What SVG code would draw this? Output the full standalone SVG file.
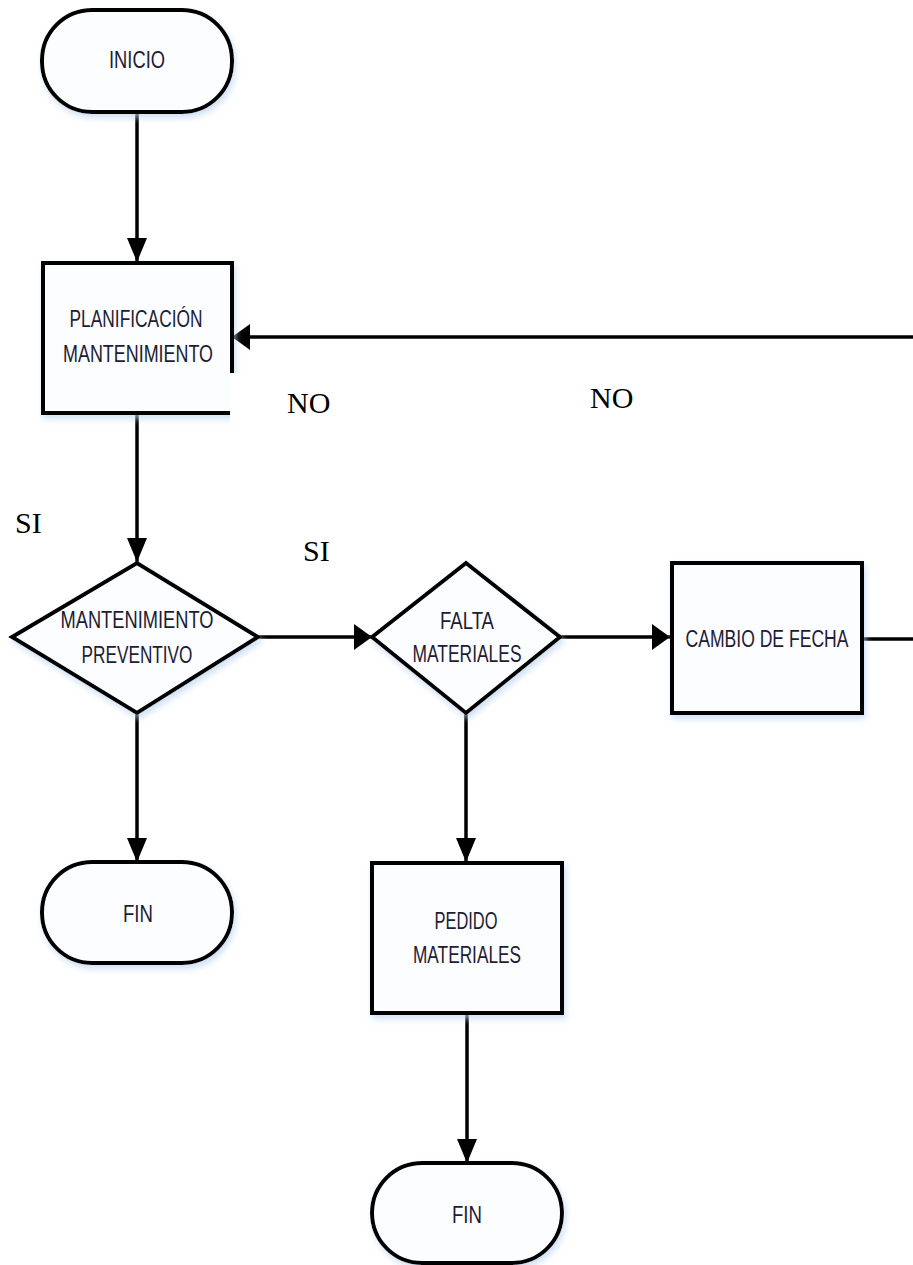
<svg xmlns="http://www.w3.org/2000/svg" width="913" height="1265" viewBox="0 0 913 1265">
  <style>
    .shape { fill: #fbfdff; stroke: #000; stroke-width: 4; filter: url(#soft); }
    .lbl { font-family: "Liberation Sans", Arial, sans-serif; font-size: 23px; fill: #221b33; text-anchor: middle; }
    .note { font-family: "Liberation Serif", "Times New Roman", serif; font-size: 30px; fill: #000; }
    .wire { fill: none; stroke: #000; stroke-width: 3.5; }
    .wireV { marker-end: url(#arrowV); }
    .wireH { marker-end: url(#arrowH); }
  </style>
  <defs>
    <filter id="soft" x="-20%" y="-20%" width="140%" height="140%">
      <feDropShadow dx="2" dy="4" stdDeviation="3" flood-color="#bcd3ee" flood-opacity="0.7"/>
    </filter>
    <!-- arrowhead for vertical runs -->
    <marker id="arrowV" viewBox="0 0 24 20" markerWidth="24" markerHeight="20" refX="24" refY="10" orient="auto" markerUnits="userSpaceOnUse">
      <path d="M0,0 L24,10 L0,20 z" fill="#000"/>
    </marker>
    <!-- arrowhead for horizontal runs -->
    <marker id="arrowH" viewBox="0 0 18 26" markerWidth="18" markerHeight="26" refX="18" refY="13" orient="auto" markerUnits="userSpaceOnUse">
      <path d="M0,0 L18,13 L0,26 z" fill="#000"/>
    </marker>
  </defs>

  <rect width="913" height="1265" fill="#fff"/>

  <g id="connectors">
    <path class="wire wireV" d="M137,112 V262"/>
    <path class="wire wireV" d="M137,413 V562"/>
    <path class="wire wireH" d="M258,637 H372"/>
    <path class="wire wireH" d="M560,637 H670"/>
    <path class="wire wireV" d="M137,713 V862"/>
    <path class="wire wireV" d="M466,713 V862"/>
    <path class="wire wireV" d="M467,1013 V1163"/>
    <path class="wire wireH" d="M862,639 H925 V337 H232"/>
  </g>

  <g id="inicio">
    <rect class="shape" x="42" y="10" width="190" height="102" rx="50" ry="50"/>
    <text class="lbl" x="137" y="68" textLength="56" lengthAdjust="spacingAndGlyphs">INICIO</text>
  </g>

  <g id="planificacion">
    <rect class="shape" x="43" y="263" width="189" height="150"/>
    <text class="lbl" x="136" y="327" textLength="133" lengthAdjust="spacingAndGlyphs">PLANIFICACIÓN</text>
    <text class="lbl" x="138" y="362" textLength="150" lengthAdjust="spacingAndGlyphs">MANTENIMIENTO</text>
  </g>

  <!-- blank label box over the lower-right corner -->
  <rect x="230" y="373" width="60" height="50" fill="#fff"/>

  <g id="mantenimiento-preventivo">
    <polygon class="shape" points="12,637 137,563 258,637 137,713"/>
    <text class="lbl" x="137" y="628" textLength="153" lengthAdjust="spacingAndGlyphs">MANTENIMIENTO</text>
    <text class="lbl" x="137" y="663" textLength="111" lengthAdjust="spacingAndGlyphs">PREVENTIVO</text>
  </g>

  <g id="falta-materiales">
    <polygon class="shape" points="372,637 466,563 560,637 466,713"/>
    <text class="lbl" x="467" y="629" textLength="54" lengthAdjust="spacingAndGlyphs">FALTA</text>
    <text class="lbl" x="467" y="662" textLength="109" lengthAdjust="spacingAndGlyphs">MATERIALES</text>
  </g>

  <g id="cambio-fecha">
    <rect class="shape" x="672" y="563" width="190" height="150"/>
    <text class="lbl" x="767" y="647" textLength="163" lengthAdjust="spacingAndGlyphs">CAMBIO DE FECHA</text>
  </g>

  <g id="fin-1">
    <rect class="shape" x="42" y="862" width="190" height="101" rx="50" ry="50"/>
    <text class="lbl" x="138" y="922" textLength="30" lengthAdjust="spacingAndGlyphs">FIN</text>
  </g>

  <g id="pedido-materiales">
    <rect class="shape" x="372" y="863" width="190" height="150"/>
    <text class="lbl" x="466" y="929" textLength="63" lengthAdjust="spacingAndGlyphs">PEDIDO</text>
    <text class="lbl" x="467" y="963" textLength="108" lengthAdjust="spacingAndGlyphs">MATERIALES</text>
  </g>

  <g id="fin-2">
    <rect class="shape" x="372" y="1163" width="190" height="100" rx="50" ry="50"/>
    <text class="lbl" x="467" y="1223" textLength="30" lengthAdjust="spacingAndGlyphs">FIN</text>
  </g>

  <g id="labels">
    <text class="note" x="287" y="413">NO</text>
    <text class="note" x="590" y="408">NO</text>
    <text class="note" x="15" y="533">SI</text>
    <text class="note" x="303" y="561">SI</text>
  </g>
</svg>
